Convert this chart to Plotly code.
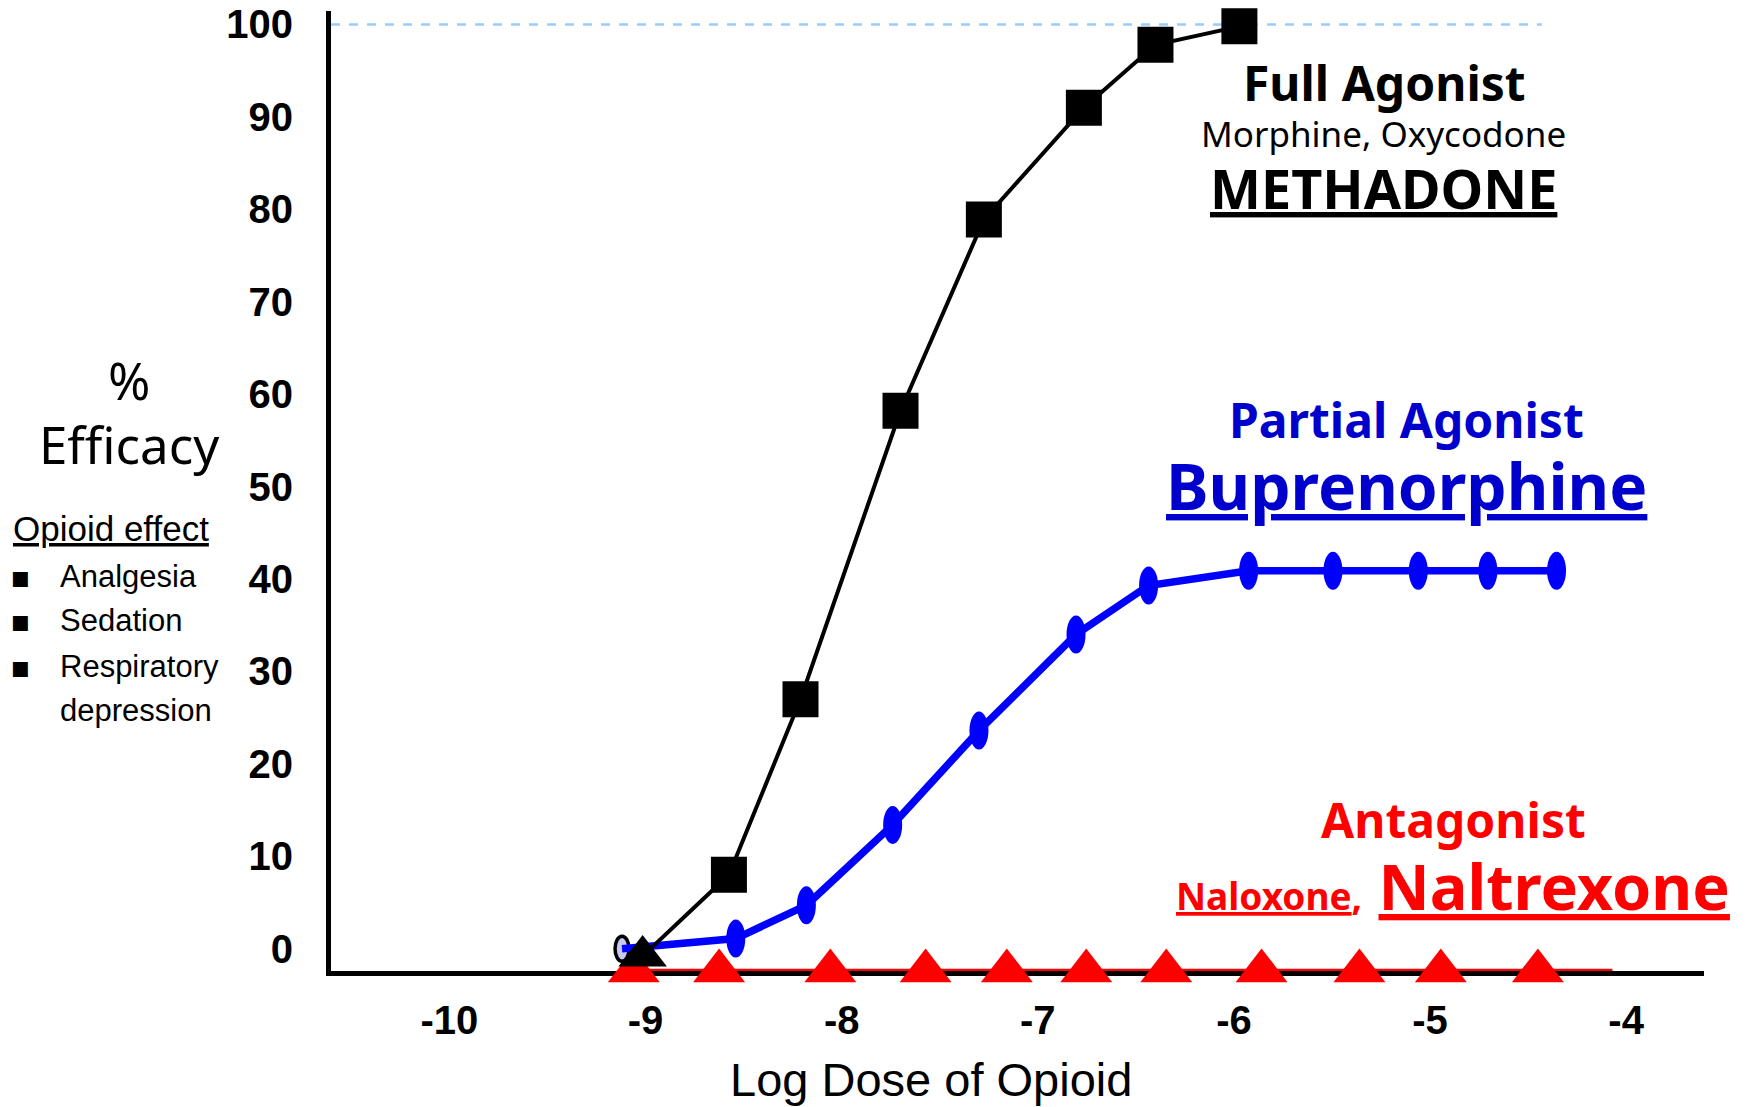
import plotly.graph_objects as go

# ---------------- data ----------------
x_tick_vals = [-10, -9, -8, -7, -6, -5, -4]
x_tick_text = ["-10", "-9", "-8", "-7", "-6", "-5", "-4"]
y_tick_vals = [0, 10, 20, 30, 40, 50, 60, 70, 80, 90, 100]
y_tick_text = ["0", "10", "20", "30", "40", "50", "60", "70", "80", "90", "100"]

# Full agonist (methadone / morphine): first point triangle, then squares
full_dose = [-9.015, -8.575, -8.21, -7.70, -7.275, -6.765, -6.40, -5.972]
full_eff = [-0.8, 8.0, 27.0, 58.2, 78.9, 91.0, 97.8, 99.8]

# Partial agonist (buprenorphine)
partial_dose = [-9.12, -8.54, -8.18, -7.74, -7.30, -6.805, -6.435, -5.925,
                -5.495, -5.06, -4.705, -4.355]
partial_eff = [0.0, 1.1, 4.7, 13.4, 23.6, 34.0, 39.3, 40.9, 40.9, 40.9, 40.9, 40.9]

# Antagonist (naloxone / naltrexone)
antag_dose = [-9.06, -8.625, -8.058, -7.572, -7.158, -6.753, -6.345, -5.859,
              -5.36, -4.945, -4.45]
antag_eff = [-2.4, -2.4, -2.4, -2.4, -2.4, -2.4, -2.4, -2.4, -2.4, -2.4, -2.4]
antag_line_end_dose = -4.07

# Ceiling reference line
ceiling_eff = 100
ceiling_end_dose = -4.43

# ---------------- layout geometry ----------------
W, H = 1746, 1107
L, R, T, B = 331, 42, 11, 136
PW = W - L - R
PH = H - T - B
x_range = [-10.604, -3.603]
y_range = [-2.41, 101.46]


def px(xpix):
    return (xpix - L) / PW


def py(ypix):
    return (H - B - ypix) / PH


BLACK = "#000000"
BLUE = "#0000FF"
BLUE_TEXT = "#0000CC"
RED = "#FF0000"
SANS = "Noto Sans, DejaVu Sans, sans-serif"
ARIAL = "Liberation Sans, Arial, sans-serif"

fig = go.Figure()

# Partial agonist line
fig.add_trace(go.Scatter(
    x=partial_dose, y=partial_eff, mode="lines",
    line=dict(color=BLUE, width=7.5), cliponaxis=False,
    name="Partial agonist", showlegend=False))

# Antagonist line (extends past last marker) and markers
fig.add_trace(go.Scatter(
    x=antag_dose + [antag_line_end_dose], y=antag_eff + [antag_eff[-1]],
    mode="lines", line=dict(color=RED, width=4.5), cliponaxis=False,
    name="Antagonist line", showlegend=False, hoverinfo="skip"))
fig.add_trace(go.Scatter(
    x=antag_dose, y=antag_eff, mode="markers",
    marker=dict(color=RED, symbol="triangle-up", size=45, opacity=1, line=dict(width=0)),
    cliponaxis=False, name="Antagonist", showlegend=False))

# Full agonist
fig.add_trace(go.Scatter(
    x=full_dose, y=full_eff, mode="lines+markers",
    line=dict(color=BLACK, width=4),
    marker=dict(color=BLACK, opacity=1,
                symbol=["triangle-up"] + ["square"] * (len(full_dose) - 1),
                size=[42] + [36] * (len(full_dose) - 1),
                line=dict(width=0)),
    cliponaxis=False, name="Full agonist", showlegend=False))

shapes = []
# ceiling dashed line
shapes.append(dict(type="line", xref="x", yref="y", x0=x_range[0], x1=ceiling_end_dose,
                   y0=ceiling_eff, y1=ceiling_eff,
                   line=dict(color="#99CCFF", width=2.5, dash="dash"), layer="below"))
# buprenorphine ellipse markers
for i, (xd, yd) in enumerate(zip(partial_dose, partial_eff)):
    if i == 0:
        shapes.append(dict(type="circle", xref="x", yref="y", xsizemode="pixel",
                           ysizemode="pixel", xanchor=xd, yanchor=yd,
                           x0=-7, x1=7, y0=-12.5, y1=12.5,
                           fillcolor="#C8C8F0", line=dict(color=BLACK, width=3.5),
                           layer="below"))
    else:
        shapes.append(dict(type="circle", xref="x", yref="y", xsizemode="pixel",
                           ysizemode="pixel", xanchor=xd, yanchor=yd,
                           x0=-9.5, x1=9.5, y0=-19, y1=19,
                           fillcolor=BLUE, line=dict(color=BLUE, width=0),
                           layer="above"))

annotations = []


def ann(text, xc, yc, size, color=BLACK, family=SANS, weight="normal", xanchor="center"):
    annotations.append(dict(text=text, xref="paper", yref="paper", x=px(xc), y=py(yc),
                            xanchor=xanchor, yanchor="middle", showarrow=False,
                            align="center" if xanchor == "center" else "left",
                            font=dict(family=family, size=size, color=color, weight=weight)))


def sz(text, size):
    return "<span style='font-size:%dpx'>%s</span>" % (size, text)


ann("Full Agonist", 1384, 83, 48, weight="bold")
ann("Morphine, Oxycodone", 1383, 133, 35)
ann("<u>METHADONE</u>", 1383, 188, 54, weight="bold")
ann("Partial Agonist", 1406, 419, 48, color=BLUE_TEXT, weight="bold")
ann("<u>Buprenorphine</u>", 1406, 486, 64, color=BLUE_TEXT, weight="bold")
ann("Antagonist", 1453, 819, 48, color=RED, weight="bold")
ann(sz("<u>Naloxone</u>,", 37) + " <u>Naltrexone</u>", 1453, 885, 63, color=RED,
    weight="bold")

ann(sz("%", 51) + "<br>" + sz("Efficacy", 51), 129, 412, 49)
ann("<u>Opioid effect</u>", 11, 528, 35, family=ARIAL, xanchor="left")
for yc in [576, 620, 666]:
    ann("\u25aa", 20, yc, 30, family="DejaVu Sans")
ann("Analgesia", 58, 576, 31, family=ARIAL, xanchor="left")
ann("Sedation", 58, 620, 31, family=ARIAL, xanchor="left")
ann("Respiratory", 58, 666, 31, family=ARIAL, xanchor="left")
ann("depression", 58, 710, 31, family=ARIAL, xanchor="left")

ann("Log Dose of Opioid", 931, 1079, 47, family=ARIAL)

fig.update_layout(
    width=W, height=H,
    margin=dict(l=L, r=R, t=T, b=B, pad=0, autoexpand=False),
    paper_bgcolor="white", plot_bgcolor="white",
    showlegend=False,
    shapes=shapes, annotations=annotations,
    xaxis=dict(range=x_range, tickvals=x_tick_vals, ticktext=x_tick_text,
               showgrid=False, zeroline=False, showline=True, linecolor=BLACK,
               linewidth=5, ticks="", ticklabelstandoff=10, layer="below traces",
               automargin=False,
               tickfont=dict(family=ARIAL, size=40, color=BLACK, weight="bold")),
    yaxis=dict(range=y_range, tickvals=y_tick_vals, ticktext=y_tick_text,
               showgrid=False, zeroline=False, showline=True, linecolor=BLACK,
               linewidth=5, ticks="", ticklabelstandoff=25, layer="below traces",
               automargin=False,
               tickfont=dict(family=ARIAL, size=40, color=BLACK, weight="bold")),
)

fig.write_html("out.html", post_script="document.body.style.margin='0';",
               config={"displayModeBar": False})
